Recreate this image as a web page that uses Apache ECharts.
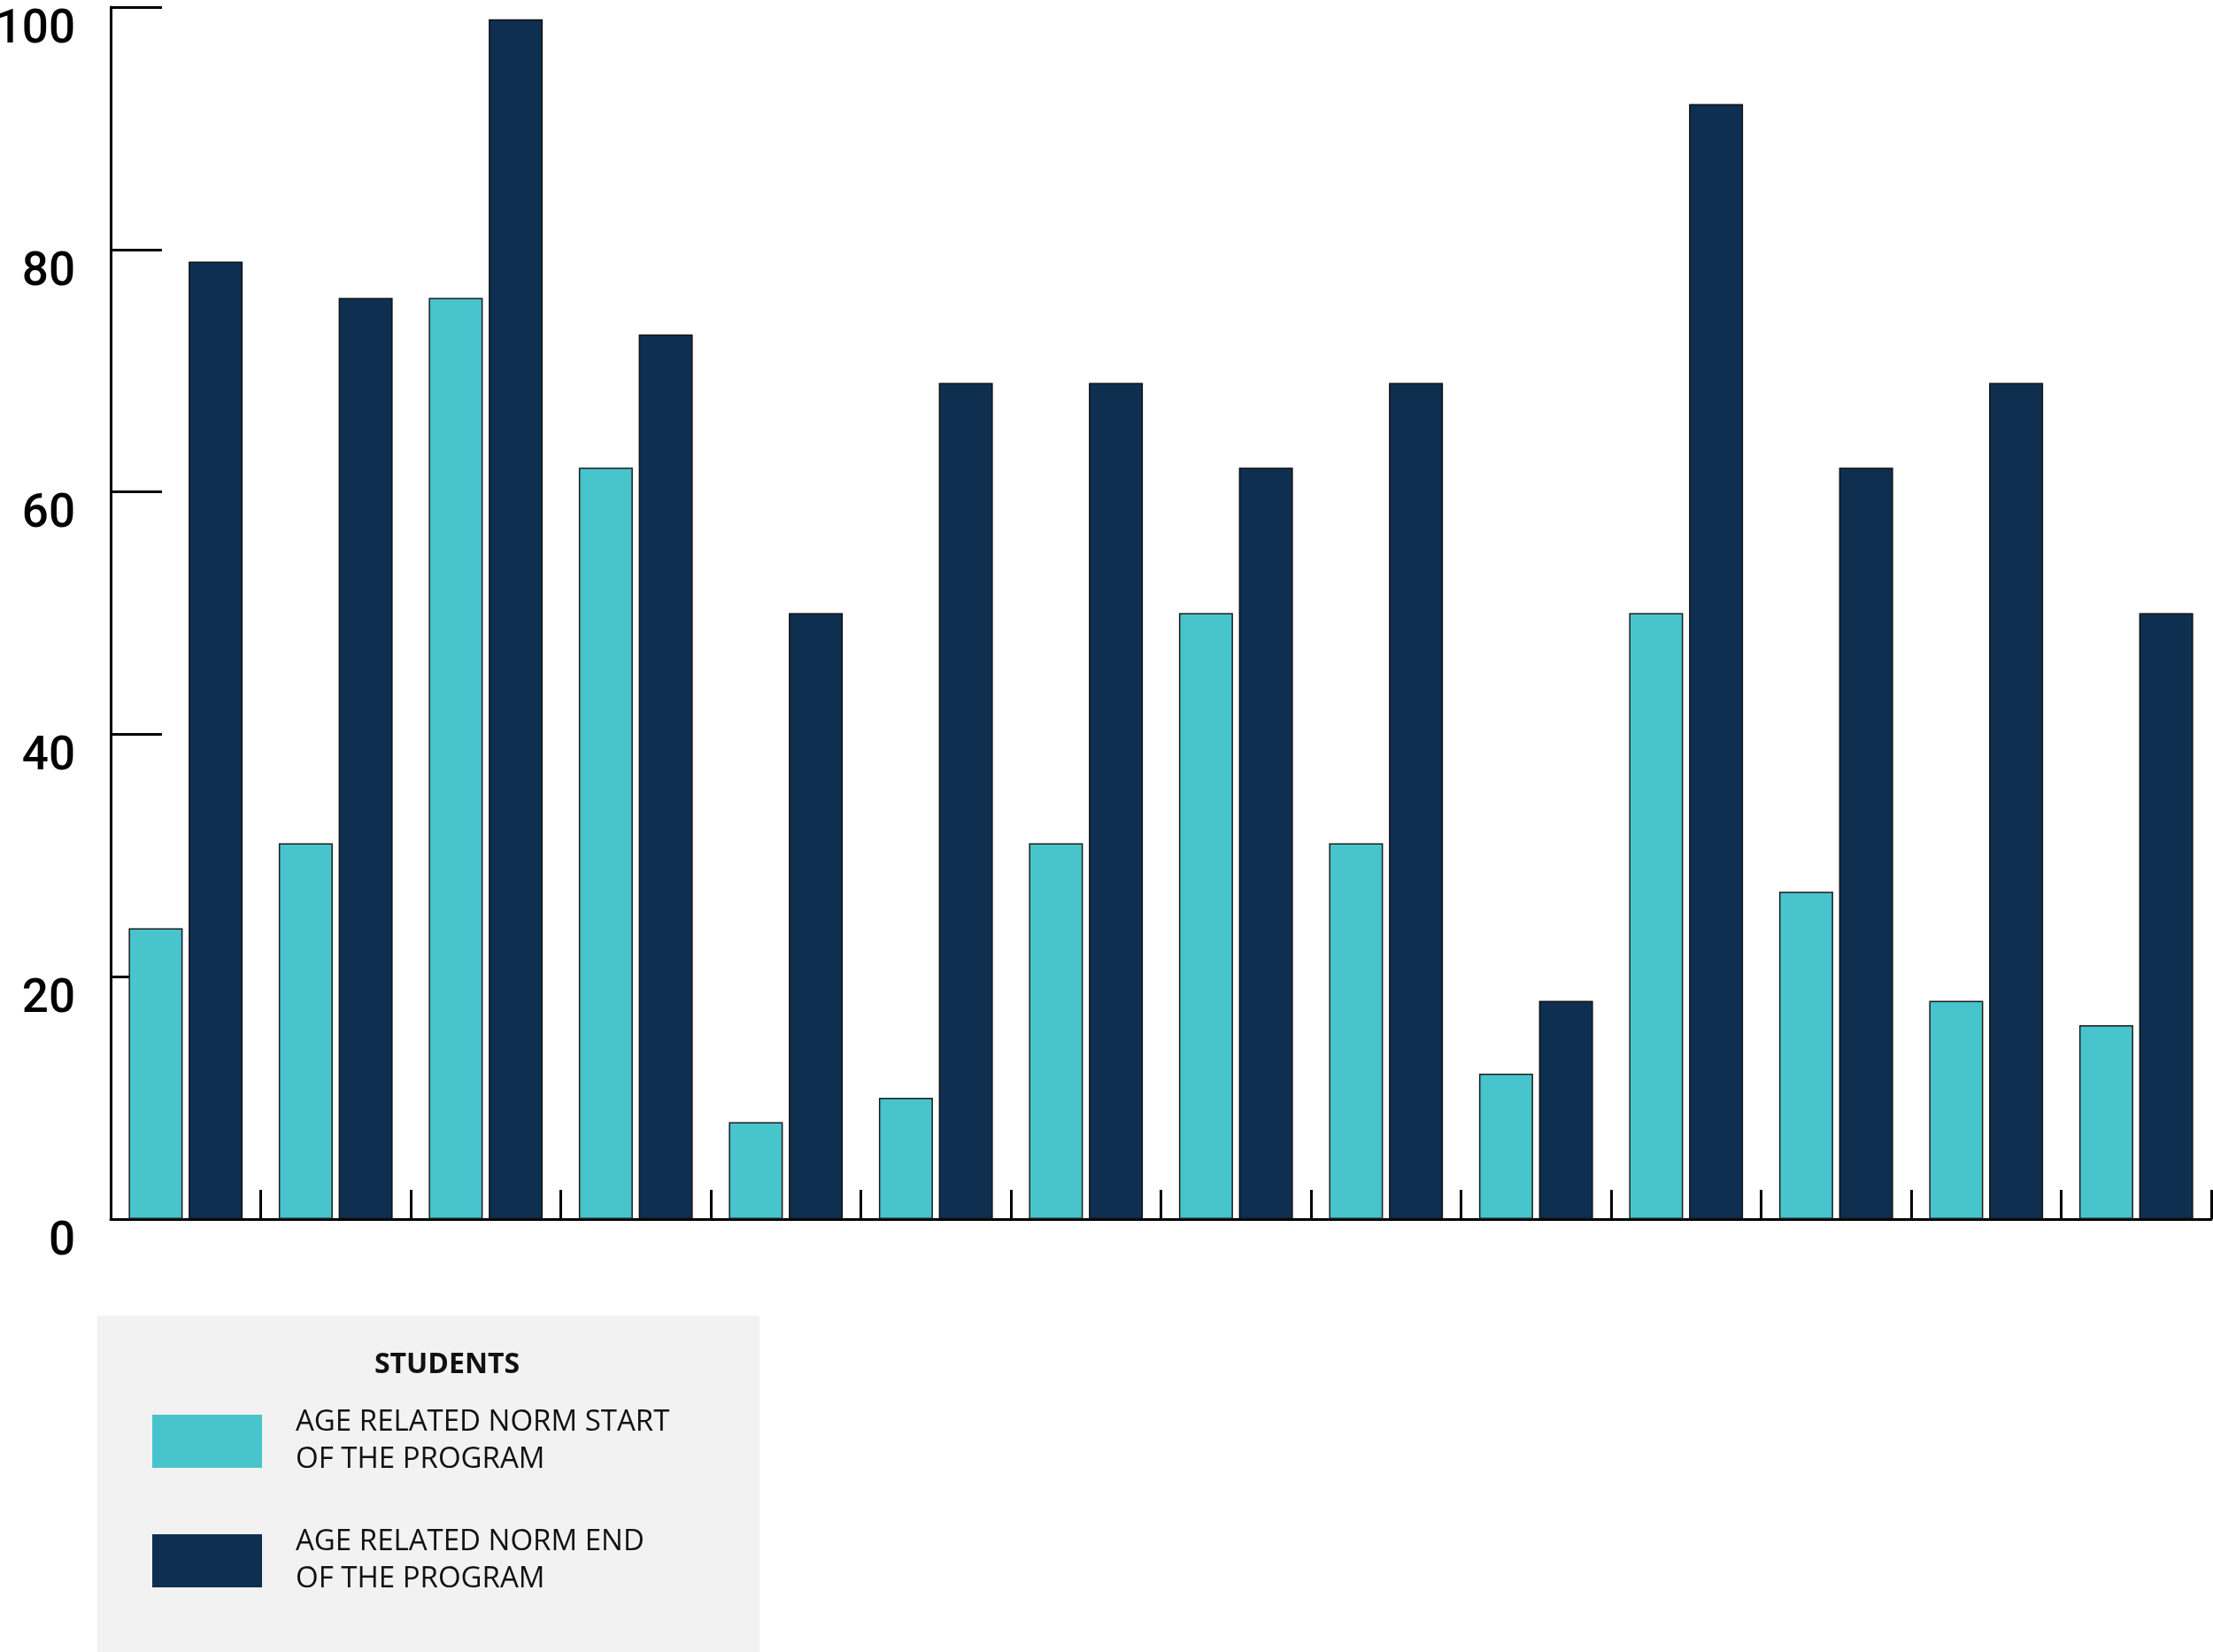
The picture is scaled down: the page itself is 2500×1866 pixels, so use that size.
<!DOCTYPE html>
<html>
<head>
<meta charset="utf-8">
<script src="https://cdn.jsdelivr.net/npm/echarts@6/dist/echarts.min.js"></script>
<style>
  html, body { margin: 0; padding: 0; background: #fff; }
  #main { width: 2500px; height: 1866px; }
</style>
</head>
<body>
<div id="main"></div>
<script>
  // 学生编号（图上不显示）
  var students = ['1', '2', '3', '4', '5', '6', '7', '8', '9', '10', '11', '12', '13', '14'];
  var startValues = [24, 31, 76, 62, 8, 10, 31, 50, 31, 12, 50, 27, 18, 16];
  var endValues = [79, 76, 99, 73, 50, 69, 69, 62, 69, 18, 92, 62, 69, 50];
  var yTicks = [0, 20, 40, 60, 80, 100];
  var seriesNames = ['AGE RELATED NORM START\nOF THE PROGRAM', 'AGE RELATED NORM END\nOF THE PROGRAM'];

  var chart = echarts.init(document.getElementById('main'));

  var option = {
    animation: false,
    backgroundColor: '#ffffff',
    grid: { left: 125, right: 2, top: 8, bottom: 489, containLabel: false, outerBoundsMode: 'none' },
    graphic: [
      { type: 'rect', left: 110, top: 1486, z: 0, shape: { width: 748, height: 380 }, style: { fill: '#f2f2f2' } },
      { type: 'text', x: 505, y: 1542, z: 5,
        style: { text: 'STUDENTS', fontFamily: "'Open Sans', sans-serif", fontWeight: 'bold',
                 fontSize: 32, fill: '#111', align: 'center', verticalAlign: 'middle' } }
    ],
    legend: {
      orient: 'vertical',
      left: 167,
      top: 1575,
      z: 10,
      itemWidth: 124,
      itemHeight: 60,
      itemGap: 39,
      icon: 'rect',
      selectedMode: false,
      itemStyle: { borderWidth: 0 },
      textStyle: {
        fontFamily: "'Open Sans', sans-serif",
        fontSize: 33,
        lineHeight: 42,
        color: '#111',
        padding: [12, 0, 0, 33]
      },
      data: seriesNames
    },
    xAxis: {
      type: 'category',
      data: students,
      axisLine: { lineStyle: { color: '#000', width: 3 } },
      axisTick: { show: true, inside: true, length: 33, lineStyle: { color: '#000', width: 3 } },
      axisLabel: { show: false },
      splitLine: { show: false }
    },
    yAxis: {
      type: 'value',
      min: yTicks[0],
      max: yTicks[yTicks.length - 1],
      interval: 20,
      axisLine: { show: true, lineStyle: { color: '#000', width: 3 } },
      axisTick: { show: true, inside: true, length: 58, lineStyle: { color: '#000', width: 3 } },
      axisLabel: {
        margin: 40,
        fontFamily: 'Roboto, sans-serif',
        fontWeight: 500,
        fontSize: 53,
        color: '#000',
        verticalAlign: 'top'
      },
      splitLine: { show: false }
    },
    series: [
      {
        name: seriesNames[0],
        type: 'bar',
        data: startValues,
        barWidth: 61,
        barGap: '11%',
        itemStyle: { color: '#48c4cd', borderColor: '#1b1b1b', borderWidth: 1.5 }
      },
      {
        name: seriesNames[1],
        type: 'bar',
        data: endValues,
        barWidth: 61,
        barGap: '11%',
        itemStyle: { color: '#0f2f51', borderColor: '#111', borderWidth: 1.5 }
      }
    ]
  };

  chart.setOption(option);
</script>
</body>
</html>
